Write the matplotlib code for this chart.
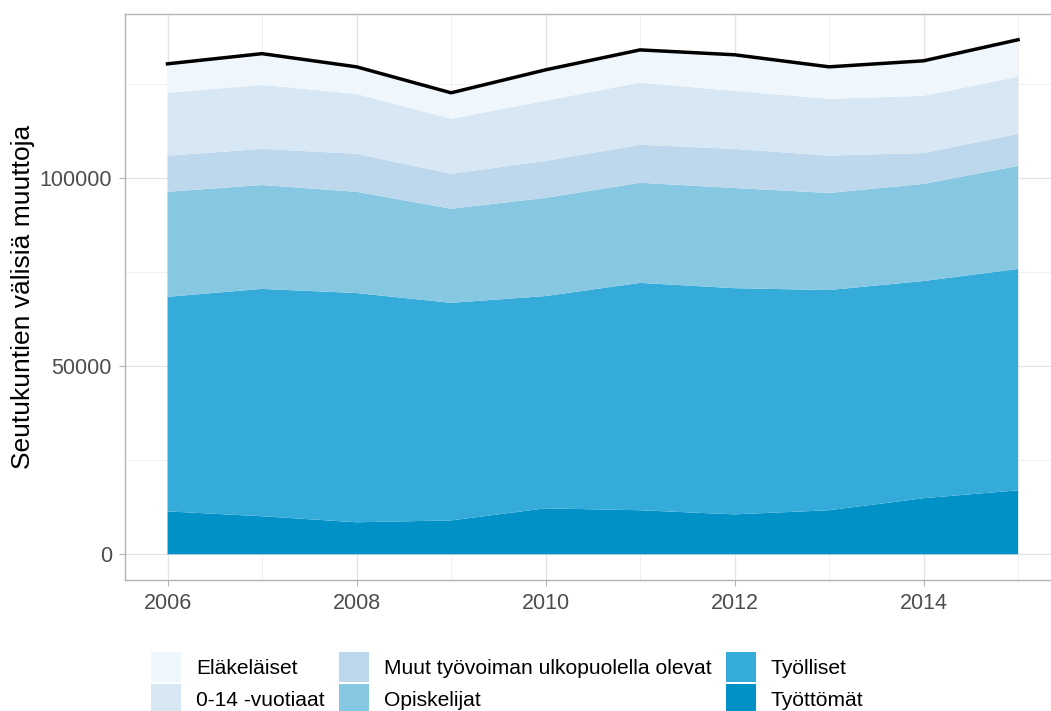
import matplotlib
matplotlib.use("Agg")
import matplotlib.pyplot as plt
from matplotlib.patches import Patch
from matplotlib.ticker import MultipleLocator, FuncFormatter
import numpy as np

plt.rcParams['font.family'] = ['Liberation Sans', 'DejaVu Sans']

years = [2006, 2007, 2008, 2009, 2010, 2011, 2012, 2013, 2014, 2015]

# muutot ryhmittäin (kpl), alimmasta ylimpään
tyottomat = [11400, 10100, 8500, 9000, 12200, 11700, 10600, 11700, 14900, 17000]
tyolliset = [57000, 60400, 60900, 57800, 56400, 60400, 60100, 58500, 57700, 58800]
opiskelijat = [27900, 27600, 26900, 25000, 26100, 26600, 26600, 25800, 25800, 27400]
muut = [9600, 9600, 10100, 9300, 9800, 10100, 10400, 9900, 8200, 8500]
lapset = [16700, 17000, 15900, 14600, 16000, 16500, 15400, 15100, 15200, 15200]
elakelaiset = [7700, 8300, 7200, 6900, 8200, 8700, 9600, 8500, 9300, 9800]

labels_bottom_up = ['Työttömät', 'Työlliset', 'Opiskelijat',
                    'Muut työvoiman ulkopuolella olevat', '0-14 -vuotiaat', 'Eläkeläiset']
colors_bottom_up = ['#0091c7', '#34abd9', '#86c7e2', '#bdd8ec', '#d7e7f4', '#f0f7fc']

series = [tyottomat, tyolliset, opiskelijat, muut, lapset, elakelaiset]
total = np.sum(series, axis=0)

fig = plt.figure(figsize=(10.51, 7.11), dpi=100)
ax = fig.add_axes([125 / 1051, 131 / 711, 935.6 / 1051, 566 / 711])

ax.stackplot(years, *series, colors=colors_bottom_up, linewidth=0, zorder=2)
ax.plot(years, total, color='black', lw=2.5, zorder=3)

# ggplot-tyyliset marginaalit
xr = years[-1] - years[0]
ax.set_xlim(years[0] - 0.05 * xr, years[-1] + 0.05 * xr)
ymax = total.max()
ax.set_ylim(-0.05 * ymax, ymax * 1.05)

ax.xaxis.set_major_locator(MultipleLocator(2))
ax.xaxis.set_minor_locator(MultipleLocator(1))
ax.yaxis.set_major_locator(MultipleLocator(50000))
ax.yaxis.set_minor_locator(MultipleLocator(25000))
ax.yaxis.set_major_formatter(FuncFormatter(lambda v, p: f'{int(v)}'))

ax.grid(which='major', color='#e3e3e3', lw=0.9, zorder=0)
ax.grid(which='minor', color='#eeeeee', lw=0.6, zorder=0)
ax.set_axisbelow(True)

for s in ax.spines.values():
    s.set_color('#b3b3b3')
    s.set_linewidth(1.0)

ax.tick_params(which='major', length=4.5, width=0.8, color='#b3b3b3',
               labelsize=15.5, labelcolor='#4d4d4d', pad=5)
ax.tick_params(which='minor', length=0)

ax.set_ylabel('Seutukuntien välisiä muuttoja', fontsize=19, color='black', labelpad=3)

# legenda: sarakkeittain ylhäältä alas
order = [5, 4, 3, 2, 1, 0]
handles = [Patch(facecolor=colors_bottom_up[i], edgecolor='none') for i in order]
fig.legend(handles, [labels_bottom_up[i] for i in order], ncol=3,
           loc='upper left', bbox_to_anchor=(151 / 1051, 1 - 652 / 711),
           frameon=False, fontsize=15.1, handlelength=1.43, handleheight=1.82,
           handletextpad=0.72, columnspacing=0.67, labelspacing=0.1,
           borderpad=0, borderaxespad=0)

fig.savefig('out.png', dpi=100)
